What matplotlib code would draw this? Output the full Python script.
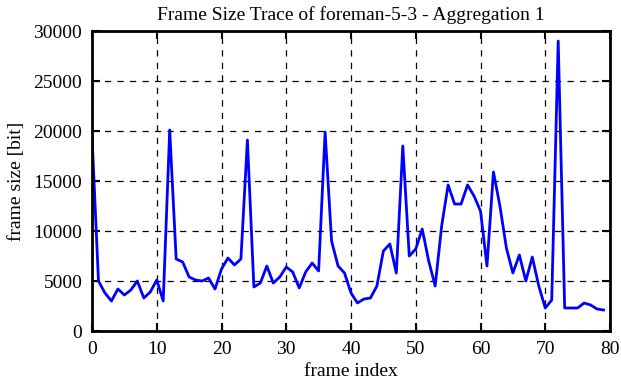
import matplotlib
matplotlib.use("Agg")
import matplotlib.pyplot as plt

frame_index = list(range(80))
frame_size = [19500, 5000, 3800, 3000, 4200, 3600, 4100, 5000, 3300, 3900,
              5100, 3000, 20100, 7200, 6900, 5400, 5100, 5000, 5300, 4200,
              6200, 7300, 6600, 7200, 19100, 4400, 4800, 6500, 4800, 5400,
              6400, 5900, 4300, 5900, 6800, 6000, 19900, 9000, 6500, 5800,
              3800, 2800, 3200, 3300, 4500, 8000, 8700, 5800, 18500, 7500,
              8200, 10200, 7000, 4500, 10500, 14600, 12700, 12700, 14600, 13500,
              12000, 6500, 15900, 12500, 8300, 5800, 7600, 5000, 7400, 4500,
              2300, 3100, 29000, 2300, 2300, 2300, 2800, 2600, 2200, 2100]

x_ticks = [0, 10, 20, 30, 40, 50, 60, 70, 80]
y_ticks = [0, 5000, 10000, 15000, 20000, 25000, 30000]

plt.rcParams['font.family'] = ['Liberation Serif', 'DejaVu Serif']

fig = plt.figure(figsize=(6.21, 3.82), dpi=100)
ax = fig.add_axes([92/621, 51/382, 518/621, 300/382])
ax.plot(frame_index, frame_size, color='#0000ff', linewidth=2.0)
ax.set_xlim(0, 80)
ax.set_ylim(0, 30000)
ax.set_xticks(x_ticks)
ax.set_yticks(y_ticks)
ax.grid(True, color='black', linestyle=(0, (5, 5)), linewidth=0.9)
ax.tick_params(direction='in', top=True, right=True, length=6, width=1.5, labelsize=14)
ax.tick_params(axis='y', pad=7)
ax.tick_params(axis='x', pad=7.5)
for s in ax.spines.values():
    s.set_linewidth(2)
ax.set_xlabel('frame index', fontsize=14, labelpad=3)
ax.set_ylabel('frame size [bit]', fontsize=14, labelpad=6)
ax.set_title('Frame Size Trace of foreman-5-3 - Aggregation 1', fontsize=14, pad=8)
fig.savefig('out.png', dpi=100)
